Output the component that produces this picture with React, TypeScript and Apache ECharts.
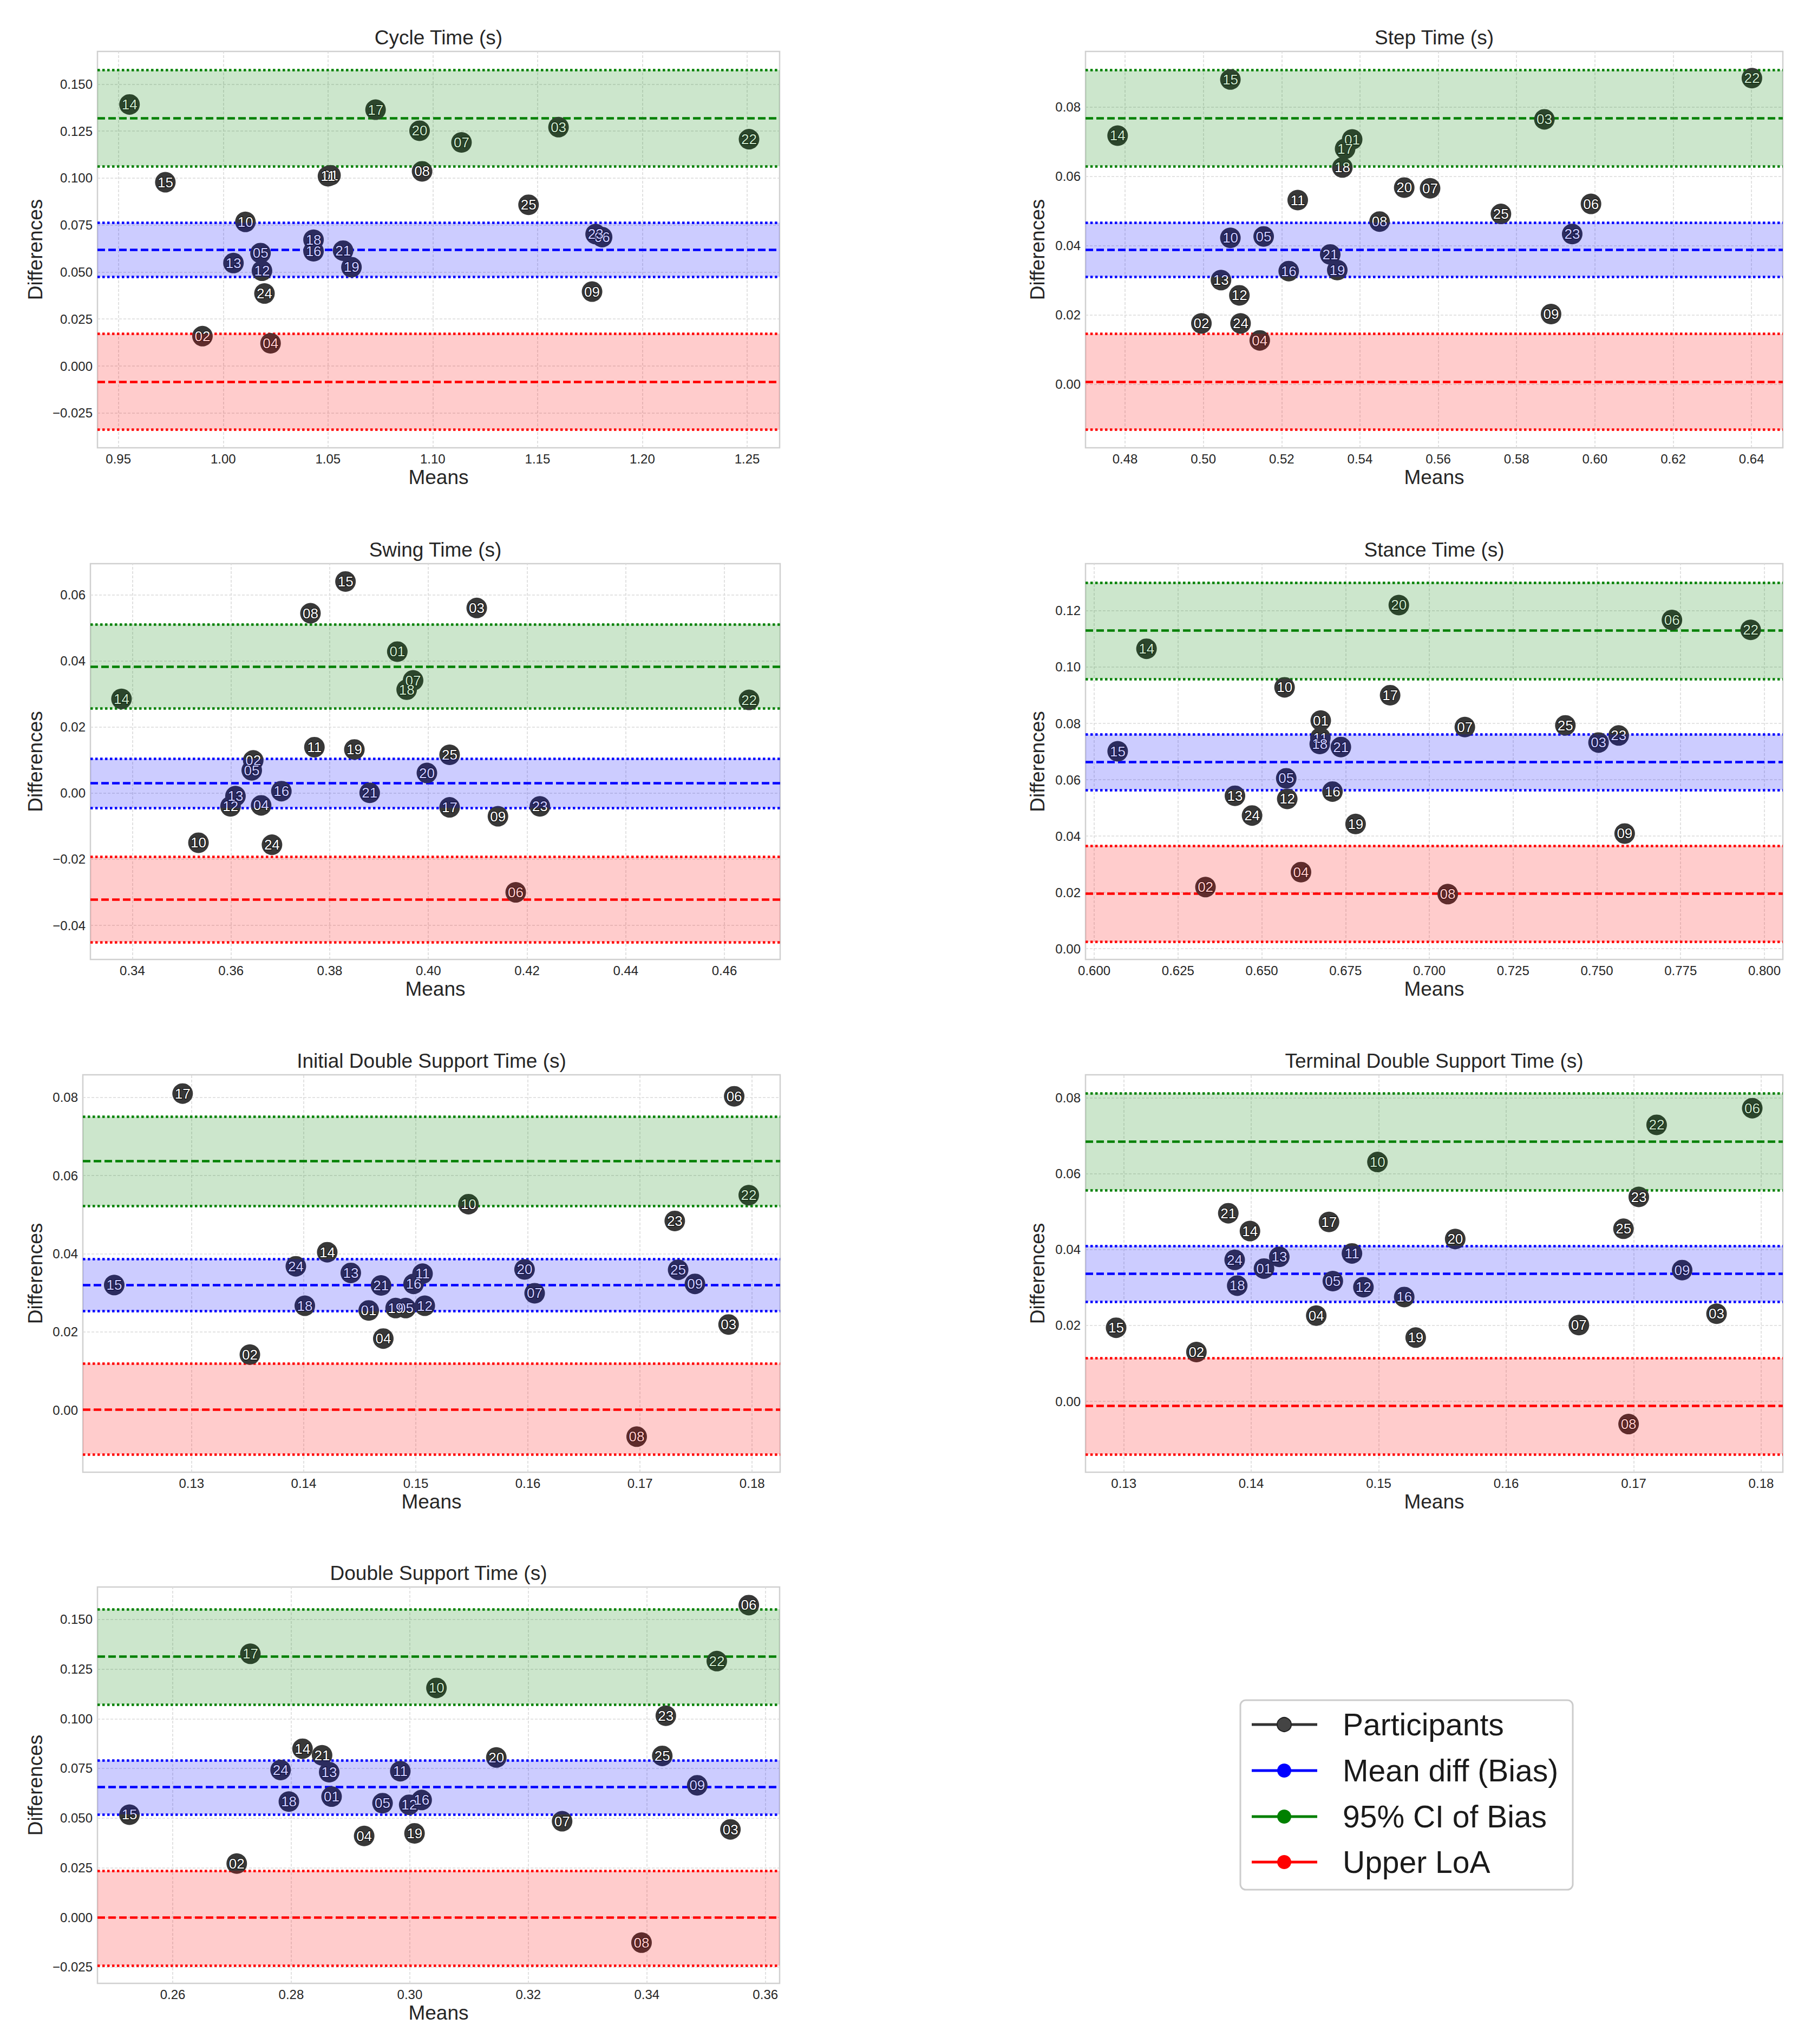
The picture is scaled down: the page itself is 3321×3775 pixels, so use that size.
import React, { useEffect, useRef } from 'react';
import * as echarts from 'echarts';

const FONT = '"Liberation Sans", Arial, Helvetica, sans-serif';

// ---------------- data ----------------
const participantIds = ['01','02','03','04','05','06','07','08','09','10','11','12','13','14','15','16','17','18','19','20','21','22','23','24','25'];

// Cycle Time
const cycleMeans = [1.0512,0.9901,1.1600,1.0226,1.0178,1.1808,1.1137,1.0949,1.1760,1.0106,1.0500,1.0185,1.0049,0.9553,0.9724,1.0431,1.0727,1.0431,1.0612,1.0937,1.0572,1.2509,1.1777,1.0197,1.1457];
const cycleDiffs = [0.1015,0.0159,0.1271,0.0121,0.0601,0.0686,0.1190,0.1036,0.0396,0.0767,0.1010,0.0507,0.0548,0.1392,0.0978,0.0611,0.1364,0.0672,0.0526,0.1252,0.0614,0.1207,0.0702,0.0386,0.0858];
const cycleLower = [-0.0339, -0.0083, 0.0172];
const cycleBias = [0.0474, 0.0618, 0.0763];
const cycleUpper = [0.1063, 0.1320, 0.1575];
const cycleXRange = [0.940, 1.2655];
const cycleYRange = [-0.0435, 0.1674];
const cycleXTicks = [0.95, 1.00, 1.05, 1.10, 1.15, 1.20, 1.25];
const cycleYTicks = [-0.025, 0, 0.025, 0.05, 0.075, 0.1, 0.125, 0.15];

// Step Time
const stepMeans = [0.5380,0.4995,0.5871,0.5144,0.5154,0.5990,0.5579,0.5450,0.5888,0.5069,0.5241,0.5092,0.5045,0.4781,0.5069,0.5218,0.5362,0.5355,0.5342,0.5513,0.5324,0.6401,0.5942,0.5095,0.5760];
const stepDiffs = [0.0706,0.0175,0.0764,0.0126,0.0426,0.0520,0.0565,0.0469,0.0202,0.0422,0.0531,0.0256,0.0300,0.0717,0.0879,0.0326,0.0679,0.0625,0.0329,0.0567,0.0374,0.0883,0.0433,0.0175,0.0491];
const stepLower = [-0.0132, 0.0007, 0.0145];
const stepBias = [0.0309, 0.0388, 0.0466];
const stepUpper = [0.0629, 0.0768, 0.0906];
const stepXRange = [0.4699, 0.6480];
const stepYRange = [-0.0184, 0.0960];
const stepXTicks = [0.48, 0.50, 0.52, 0.54, 0.56, 0.58, 0.60, 0.62, 0.64];
const stepYTicks = [0, 0.02, 0.04, 0.06, 0.08];

// Swing Time
const swingMeans = [0.3937,0.3645,0.4098,0.3661,0.3642,0.4177,0.3969,0.3761,0.4141,0.3534,0.3769,0.3599,0.3609,0.3378,0.3832,0.3702,0.4043,0.3956,0.3850,0.3997,0.3881,0.4650,0.4226,0.3683,0.4043];
const swingDiffs = [0.0428,0.0099,0.0560,-0.0037,0.0069,-0.0300,0.0341,0.0544,-0.0070,-0.0150,0.0139,-0.0040,-0.0009,0.0285,0.0640,0.0006,-0.0043,0.0313,0.0132,0.0061,0.0001,0.0282,-0.0040,-0.0156,0.0116];
const swingLower = [-0.0451, -0.0322, -0.0193];
const swingBias = [-0.0045, 0.0030, 0.0104];
const swingUpper = [0.0256, 0.0382, 0.0511];
const swingXRange = [0.3315, 0.4713];
const swingYRange = [-0.0503, 0.0694];
const swingXTicks = [0.34, 0.36, 0.38, 0.40, 0.42, 0.44, 0.46];
const swingYTicks = [-0.04, -0.02, 0, 0.02, 0.04, 0.06];

// Stance Time
const stanceMeans = [0.6676,0.6332,0.7505,0.6617,0.6573,0.7724,0.7106,0.7055,0.7583,0.6568,0.6675,0.6576,0.6420,0.6156,0.6070,0.6711,0.6883,0.6673,0.6780,0.6909,0.6736,0.7959,0.7565,0.6471,0.7406];
const stanceDiffs = [0.0810,0.0219,0.0732,0.0272,0.0605,0.1167,0.0787,0.0194,0.0409,0.0928,0.0749,0.0532,0.0543,0.1065,0.0701,0.0558,0.0900,0.0727,0.0443,0.1220,0.0716,0.1132,0.0757,0.0473,0.0793];
const stanceLower = [0.0024, 0.0196, 0.0366];
const stanceBias = [0.0564, 0.0663, 0.0761];
const stanceUpper = [0.0958, 0.1131, 0.1300];
const stanceXRange = [0.5974, 0.8055];
const stanceYRange = [-0.0038, 0.1367];
const stanceXTicks = [0.600, 0.625, 0.650, 0.675, 0.700, 0.725, 0.750, 0.775, 0.800];
const stanceYTicks = [0, 0.02, 0.04, 0.06, 0.08, 0.10, 0.12];

// Initial Double Support Time
const idsMeans = [0.1458,0.1352,0.1779,0.1471,0.1491,0.1784,0.1606,0.1697,0.1749,0.1547,0.1506,0.1508,0.1442,0.1421,0.1231,0.1498,0.1292,0.1401,0.1482,0.1597,0.1469,0.1797,0.1731,0.1393,0.1734];
const idsDiffs = [0.0255,0.0142,0.0219,0.0183,0.0261,0.0803,0.0299,-0.0068,0.0323,0.0527,0.0349,0.0267,0.0351,0.0404,0.0320,0.0323,0.0810,0.0267,0.0261,0.0360,0.0319,0.0550,0.0484,0.0368,0.0359];
const idsLower = [-0.0113, 0.0002, 0.0119];
const idsBias = [0.0253, 0.0320, 0.0387];
const idsUpper = [0.0522, 0.0637, 0.0751];
const idsXRange = [0.1203, 0.1825];
const idsYRange = [-0.0159, 0.0858];
const idsXTicks = [0.13, 0.14, 0.15, 0.16, 0.17, 0.18];
const idsYTicks = [0, 0.02, 0.04, 0.06, 0.08];

// Terminal Double Support Time
const tdsMeans = [0.1410,0.1357,0.1765,0.1451,0.1464,0.1793,0.1657,0.1696,0.1738,0.1499,0.1479,0.1488,0.1422,0.1399,0.1294,0.1520,0.1461,0.1389,0.1529,0.1560,0.1382,0.1718,0.1704,0.1387,0.1692];
const tdsDiffs = [0.0350,0.0130,0.0231,0.0226,0.0317,0.0773,0.0201,-0.0060,0.0346,0.0631,0.0390,0.0301,0.0381,0.0449,0.0194,0.0275,0.0473,0.0305,0.0168,0.0428,0.0496,0.0729,0.0539,0.0373,0.0455];
const tdsLower = [-0.0140, -0.0012, 0.0114];
const tdsBias = [0.0263, 0.0337, 0.0410];
const tdsUpper = [0.0557, 0.0685, 0.0812];
const tdsXRange = [0.1270, 0.1817];
const tdsYRange = [-0.0187, 0.0861];
const tdsXTicks = [0.13, 0.14, 0.15, 0.16, 0.17, 0.18];
const tdsYTicks = [0, 0.02, 0.04, 0.06, 0.08];

// Double Support Time
const dsMeans = [0.2868,0.2708,0.3541,0.2923,0.2954,0.3572,0.3257,0.3391,0.3485,0.3045,0.2984,0.2999,0.2864,0.2819,0.2527,0.3020,0.2731,0.2796,0.3008,0.3146,0.2852,0.3518,0.3432,0.2782,0.3426];
const dsDiffs = [0.0608,0.0271,0.0443,0.0410,0.0575,0.1572,0.0484,-0.0127,0.0665,0.1155,0.0736,0.0567,0.0731,0.0849,0.0517,0.0591,0.1327,0.0583,0.0423,0.0805,0.0816,0.1290,0.1015,0.0742,0.0813];
const dsLower = [-0.0243, 0.0000, 0.0235];
const dsBias = [0.0518, 0.0656, 0.0791];
const dsUpper = [0.1072, 0.1313, 0.1551];
const dsXRange = [0.2473, 0.3624];
const dsYRange = [-0.0332, 0.1663];
const dsXTicks = [0.26, 0.28, 0.30, 0.32, 0.34, 0.36];
const dsYTicks = [-0.025, 0, 0.025, 0.05, 0.075, 0.1, 0.125, 0.15];

const panelTitles = ['Cycle Time (s)', 'Step Time (s)', 'Swing Time (s)', 'Stance Time (s)', 'Initial Double Support Time (s)', 'Terminal Double Support Time (s)', 'Double Support Time (s)'];
const legendLabels = ['Participants', 'Mean diff (Bias)', '95% CI of Bias', 'Upper LoA'];

const PANELS = [
  { means: cycleMeans, diffs: cycleDiffs, lower: cycleLower, bias: cycleBias, upper: cycleUpper, xr: cycleXRange, yr: cycleYRange, xt: cycleXTicks, yt: cycleYTicks },
  { means: stepMeans, diffs: stepDiffs, lower: stepLower, bias: stepBias, upper: stepUpper, xr: stepXRange, yr: stepYRange, xt: stepXTicks, yt: stepYTicks },
  { means: swingMeans, diffs: swingDiffs, lower: swingLower, bias: swingBias, upper: swingUpper, xr: swingXRange, yr: swingYRange, xt: swingXTicks, yt: swingYTicks },
  { means: stanceMeans, diffs: stanceDiffs, lower: stanceLower, bias: stanceBias, upper: stanceUpper, xr: stanceXRange, yr: stanceYRange, xt: stanceXTicks, yt: stanceYTicks },
  { means: idsMeans, diffs: idsDiffs, lower: idsLower, bias: idsBias, upper: idsUpper, xr: idsXRange, yr: idsYRange, xt: idsXTicks, yt: idsYTicks },
  { means: tdsMeans, diffs: tdsDiffs, lower: tdsLower, bias: tdsBias, upper: tdsUpper, xr: tdsXRange, yr: tdsYRange, xt: tdsXTicks, yt: tdsYTicks },
  { means: dsMeans, diffs: dsDiffs, lower: dsLower, bias: dsBias, upper: dsUpper, xr: dsXRange, yr: dsYRange, xt: dsXTicks, yt: dsYTicks },
];

// ---------------- layout / style ----------------
const LAYOUT = [
  { left: 180, top: 95, width: 1260, height: 732, xDec: 2, yDec: 3, yGap: 96 },
  { left: 2005, top: 95, width: 1288, height: 732, xDec: 2, yDec: 2, yGap: 70 },
  { left: 167, top: 1041, width: 1274, height: 731, xDec: 2, yDec: 2, yGap: 83 },
  { left: 2005, top: 1041, width: 1288, height: 731, xDec: 3, yDec: 2, yGap: 70 },
  { left: 153, top: 1985, width: 1288, height: 734, xDec: 2, yDec: 2, yGap: 69 },
  { left: 2005, top: 1985, width: 1288, height: 734, xDec: 2, yDec: 2, yGap: 70 },
  { left: 180, top: 2931, width: 1260, height: 732, xDec: 2, yDec: 3, yGap: 96 },
];

const TEXT = '#262626';
const GREEN = '#008000';
const BLUE = '#0000ff';
const RED = '#ff0000';
const DOTTED = [4.5, 4.5];
const DASHED = [14, 6];

function fmt(v: number, d: number): string {
  if (Math.abs(v) < 1e-9) return (0).toFixed(d);
  return (v < 0 ? '\u2212' : '') + Math.abs(v).toFixed(d);
}

function buildOption() {
  const grid = LAYOUT.map((l) => ({
    left: l.left, top: l.top, width: l.width, height: l.height,
    show: true, borderColor: '#d0d0d0', borderWidth: 2.5, backgroundColor: 'transparent',
    containLabel: false, outerBoundsMode: 'none',
  }));

  const xAxis = PANELS.map((p, i) => ({
    type: 'value', gridIndex: i, min: p.xr[0], max: p.xr[1],
    axisLine: { show: false, onZero: false }, axisTick: { show: false }, splitLine: { show: false },
    axisLabel: { customValues: p.xt, formatter: (v: number) => fmt(v, LAYOUT[i].xDec), fontSize: 24, color: TEXT, fontFamily: FONT, margin: 8 },
    name: 'Means', nameLocation: 'middle', nameGap: 36, nameMoveOverlap: false,
    nameTextStyle: { fontSize: 37, color: TEXT, fontFamily: FONT },
  }));

  const yAxis = PANELS.map((p, i) => ({
    type: 'value', gridIndex: i, min: p.yr[0], max: p.yr[1],
    axisLine: { show: false, onZero: false }, axisTick: { show: false }, splitLine: { show: false },
    axisLabel: { customValues: p.yt, formatter: (v: number) => fmt(v, LAYOUT[i].yDec), fontSize: 24, color: TEXT, fontFamily: FONT, margin: 9 },
    name: 'Differences', nameLocation: 'middle', nameGap: LAYOUT[i].yGap, nameMoveOverlap: false,
    nameTextStyle: { fontSize: 37, color: TEXT, fontFamily: FONT },
  }));

  const gridLineStyle = { color: '#dadada', width: 1.6, type: [5, 3] };

  const series = PANELS.map((p, i) => {
    const lines: any[] = [];
    p.xt.forEach((v) => lines.push({ xAxis: v, lineStyle: gridLineStyle }));
    p.yt.forEach((v) => lines.push({ yAxis: v, lineStyle: gridLineStyle }));
    const bands: [number[], string][] = [[p.lower, RED], [p.bias, BLUE], [p.upper, GREEN]];
    bands.forEach(([arr, c]) => {
      lines.push({ yAxis: arr[0], lineStyle: { color: c, width: 4.5, type: DOTTED } });
      lines.push({ yAxis: arr[1], lineStyle: { color: c, width: 4.5, type: DASHED } });
      lines.push({ yAxis: arr[2], lineStyle: { color: c, width: 4.5, type: DOTTED } });
    });
    return {
      type: 'scatter', xAxisIndex: i, yAxisIndex: i, z: 2, silent: true,
      data: participantIds.map((id, k) => ({ name: id, value: [p.means[k], p.diffs[k]] })),
      symbol: 'circle', symbolSize: 38,
      itemStyle: { color: '#383838', opacity: 1 },
      label: {
        show: true, position: 'inside', formatter: '{b}', color: '#ffffff', fontSize: 26,
        fontFamily: FONT, textBorderColor: '#111111', textBorderWidth: 2.5,
      },
      emphasis: { disabled: true },
      markLine: {
        z: 1, silent: true, symbol: ['none', 'none'], label: { show: false }, precision: 6,
        emphasis: { disabled: true }, animation: false, data: lines,
      },
      markArea: {
        z: 3, silent: true, emphasis: { disabled: true }, animation: false,
        label: { show: false },
        data: [
          [{ yAxis: p.lower[0], itemStyle: { color: 'rgba(255,0,0,0.2)' } }, { yAxis: p.lower[2] }],
          [{ yAxis: p.bias[0], itemStyle: { color: 'rgba(0,0,255,0.2)' } }, { yAxis: p.bias[2] }],
          [{ yAxis: p.upper[0], itemStyle: { color: 'rgba(0,128,0,0.2)' } }, { yAxis: p.upper[2] }],
        ],
      },
    };
  });

  const graphics: any[] = [];
  LAYOUT.forEach((l, i) => {
    graphics.push({
      type: 'text', x: l.left + l.width / 2, y: l.top - 26, silent: true,
      style: {
        text: panelTitles[i], font: `37px ${FONT}`, fill: TEXT,
        align: 'center', verticalAlign: 'middle', textAlign: 'center', textVerticalAlign: 'middle',
      },
    });
  });

  // legend box
  const lgX = 2291, lgY = 3140, lgW = 614, lgH = 350;
  graphics.push({
    type: 'rect', silent: true, z: 10,
    shape: { x: lgX, y: lgY, width: lgW, height: lgH, r: 10 },
    style: { fill: '#ffffff', stroke: '#cccccc', lineWidth: 3 },
  });
  const rowY = [3185, 3270, 3355, 3439];
  const rowColors = ['#333333', BLUE, GREEN, RED];
  legendLabels.forEach((lab, k) => {
    graphics.push({
      type: 'line', silent: true, z: 11,
      shape: { x1: 2312, y1: rowY[k], x2: 2433, y2: rowY[k] },
      style: { stroke: rowColors[k], lineWidth: 5 },
    });
    graphics.push({
      type: 'circle', silent: true, z: 12,
      shape: { cx: 2372, cy: rowY[k], r: 13 },
      style: k === 0 ? { fill: '#444444', stroke: '#222222', lineWidth: 2 } : { fill: rowColors[k] },
    });
    graphics.push({
      type: 'text', silent: true, z: 12, x: 2480, y: rowY[k],
      style: {
        text: lab, font: `57px ${FONT}`, fill: '#1a1a1a',
        align: 'left', verticalAlign: 'middle', textAlign: 'left', textVerticalAlign: 'middle',
      },
    });
  });

  return {
    animation: false,
    backgroundColor: '#ffffff',
    grid, xAxis, yAxis, series,
    graphic: { elements: graphics },
  };
}

export default function App() {
  const ref = useRef<HTMLDivElement>(null);
  useEffect(() => {
    document.body.style.margin = '0';
    const chart = echarts.init(ref.current as HTMLDivElement, null, { renderer: 'svg', width: 3321, height: 3775 });
    chart.setOption(buildOption() as any);
    return () => chart.dispose();
  }, []);
  return <div ref={ref} style={{ width: 3321, height: 3775, background: '#ffffff' }} />;
}
